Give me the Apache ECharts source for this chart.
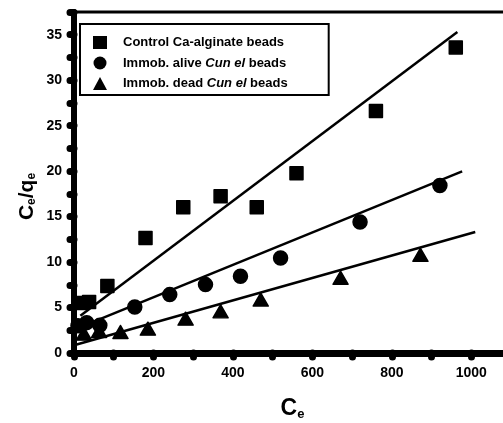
<!DOCTYPE html>
<html>
<head>
<meta charset="utf-8">
<script src="https://cdn.jsdelivr.net/npm/echarts@6/dist/echarts.min.js"></script>
<style>
html,body{margin:0;padding:0;background:#fff;}
#chart{width:503px;height:423px;}
</style>
</head>
<body>
<div id="chart"></div>
<script>
// ---- data ----
const seriesNames = ['Control Ca-alginate beads', 'Immob. alive Cun el beads', 'Immob. dead Cun el beads'];

const ctrlX = [18, 38, 84, 180, 275, 369, 460, 560, 760, 961];
const ctrlY = [5.5, 5.6, 7.36, 12.64, 16.04, 17.25, 16.04, 19.78, 26.6, 33.6];

const aliveX = [10, 32, 65, 153, 241, 331, 419, 520, 720, 921];
const aliveY = [3.0, 3.34, 3.04, 5.06, 6.42, 7.52, 8.43, 10.44, 14.4, 18.43];

const deadX = [25, 63, 117, 186, 281, 369, 470, 671, 872];
const deadY = [2.13, 2.42, 2.31, 2.68, 3.78, 4.58, 5.87, 8.28, 10.8];

// fitted straight lines (end points)
const ctrlFitX = [16, 965];
const ctrlFitY = [4.1, 35.3];
const aliveFitX = [5, 977];
const aliveFitY = [2.65, 19.97];
const deadFitX = [0, 1010];
const deadFitY = [0.85, 13.3];

const xTickLabels = [0, 200, 400, 600, 800, 1000];
const yTickLabels = [0, 5, 10, 15, 20, 25, 30, 35];

// ---- build ----
const zip = (xs, ys) => xs.map((x, i) => [x, ys[i]]);
const FONT = 'Liberation Sans, Arial, sans-serif';

const chart = echarts.init(document.getElementById('chart'), null, {renderer: 'canvas'});

const symbolStyle = {color: '#000', borderColor: '#000', borderWidth: 1.5, borderJoin: 'round', opacity: 1};
const lineStyle = {color: '#000', width: 2.5};

const option = {
  animation: false,
  backgroundColor: '#fff',
  grid: {
    left: 74, top: 12, right: -8, bottom: 70,
    show: true, borderColor: '#000', borderWidth: 3, backgroundColor: 'transparent',
    containLabel: false, outerBoundsMode: 'none'
  },
  legend: {
    left: 80, top: 24, orient: 'vertical',
    data: seriesNames,
    borderColor: '#000', borderWidth: 2, borderRadius: 0,
    padding: [12, 41, 5, 13],
    itemGap: 7.5, itemWidth: 14, itemHeight: 13,
    itemStyle: {color: '#000', borderColor: '#000', borderWidth: 0, opacity: 1},
    formatter: function (name) {
      if (name.indexOf('Cun el') >= 0) {
        const parts = name.split('Cun el');
        return '{f|' + parts[0] + '}{i|Cun el}{n|' + parts[1] + '}';
      }
      return '{f|' + name + '}';
    },
    textStyle: {
      fontFamily: FONT, fontWeight: 'bold', fontSize: 13, color: '#000',
      rich: {
        f: {fontFamily: FONT, fontWeight: 'bold', fontSize: 13, color: '#000', padding: [0, 0, 0, 11], lineHeight: 14},
        n: {fontFamily: FONT, fontWeight: 'bold', fontSize: 13, color: '#000', lineHeight: 14},
        i: {fontFamily: FONT, fontWeight: 'bold', fontStyle: 'italic', fontSize: 13, color: '#000', lineHeight: 14}
      }
    }
  },
  xAxis: {
    type: 'value', min: 0, max: 1100, interval: 100,
    name: '{c|C}{s|e}', nameLocation: 'middle', nameGap: 44, nameMoveOverlap: false,
    nameTextStyle: {
      rich: {
        c: {fontFamily: FONT, fontWeight: 'bold', fontSize: 23, color: '#000', lineHeight: 24},
        s: {fontFamily: FONT, fontWeight: 'bold', fontSize: 13, color: '#000', lineHeight: 12, padding: [20, 0, 0, 0], verticalAlign: 'bottom'}
      }
    },
    axisLine: {show: true, onZero: false, lineStyle: {color: '#000', width: 7}},
    axisTick: {show: true, length: 4, lineStyle: {color: '#000', width: 7, cap: 'round'}},
    axisLabel: {
      margin: 13, fontFamily: FONT, fontWeight: 'bold', fontSize: 14, color: '#000',
      formatter: v => (xTickLabels.indexOf(v) >= 0 ? String(v) : '')
    },
    splitLine: {show: false}
  },
  yAxis: {
    type: 'value', min: 0, max: 37.5, interval: 2.5,
    name: '{c|C}{s|e}{c|/q}{s|e}', nameLocation: 'middle', nameRotate: 90, nameGap: 36, nameMoveOverlap: false,
    nameTextStyle: {
      padding: [0, 28, 0, 0],
      rich: {
        c: {fontFamily: FONT, fontWeight: 'bold', fontSize: 21, color: '#000', lineHeight: 22},
        s: {fontFamily: FONT, fontWeight: 'bold', fontSize: 12, color: '#000', lineHeight: 12, padding: [16, 0, 0, 0], verticalAlign: 'bottom'}
      }
    },
    axisLine: {show: true, onZero: false, lineStyle: {color: '#000', width: 6}},
    axisTick: {show: true, length: 4, lineStyle: {color: '#000', width: 7, cap: 'round'}},
    axisLabel: {
      margin: 12, fontFamily: FONT, fontWeight: 'bold', fontSize: 14, color: '#000',
      formatter: v => (yTickLabels.indexOf(v) >= 0 ? String(v) : '')
    },
    splitLine: {show: false}
  },
  series: [
    {type: 'line', data: zip(ctrlFitX, ctrlFitY), showSymbol: false, symbol: 'none', lineStyle: lineStyle, silent: true, z: 3},
    {type: 'line', data: zip(aliveFitX, aliveFitY), showSymbol: false, symbol: 'none', lineStyle: lineStyle, silent: true, z: 3},
    {type: 'line', data: zip(deadFitX, deadFitY), showSymbol: false, symbol: 'none', lineStyle: lineStyle, silent: true, z: 3},
    {name: seriesNames[0], type: 'scatter', data: zip(ctrlX, ctrlY), symbol: 'rect', symbolSize: 13, itemStyle: symbolStyle, z: 4},
    {name: seriesNames[1], type: 'scatter', data: zip(aliveX, aliveY), symbol: 'circle', symbolSize: 14, itemStyle: symbolStyle, z: 4},
    {name: seriesNames[2], type: 'scatter', data: zip(deadX, deadY), symbol: 'triangle', symbolSize: [15, 13], itemStyle: symbolStyle, z: 4}
  ]
};
chart.setOption(option);
</script>
</body>
</html>
